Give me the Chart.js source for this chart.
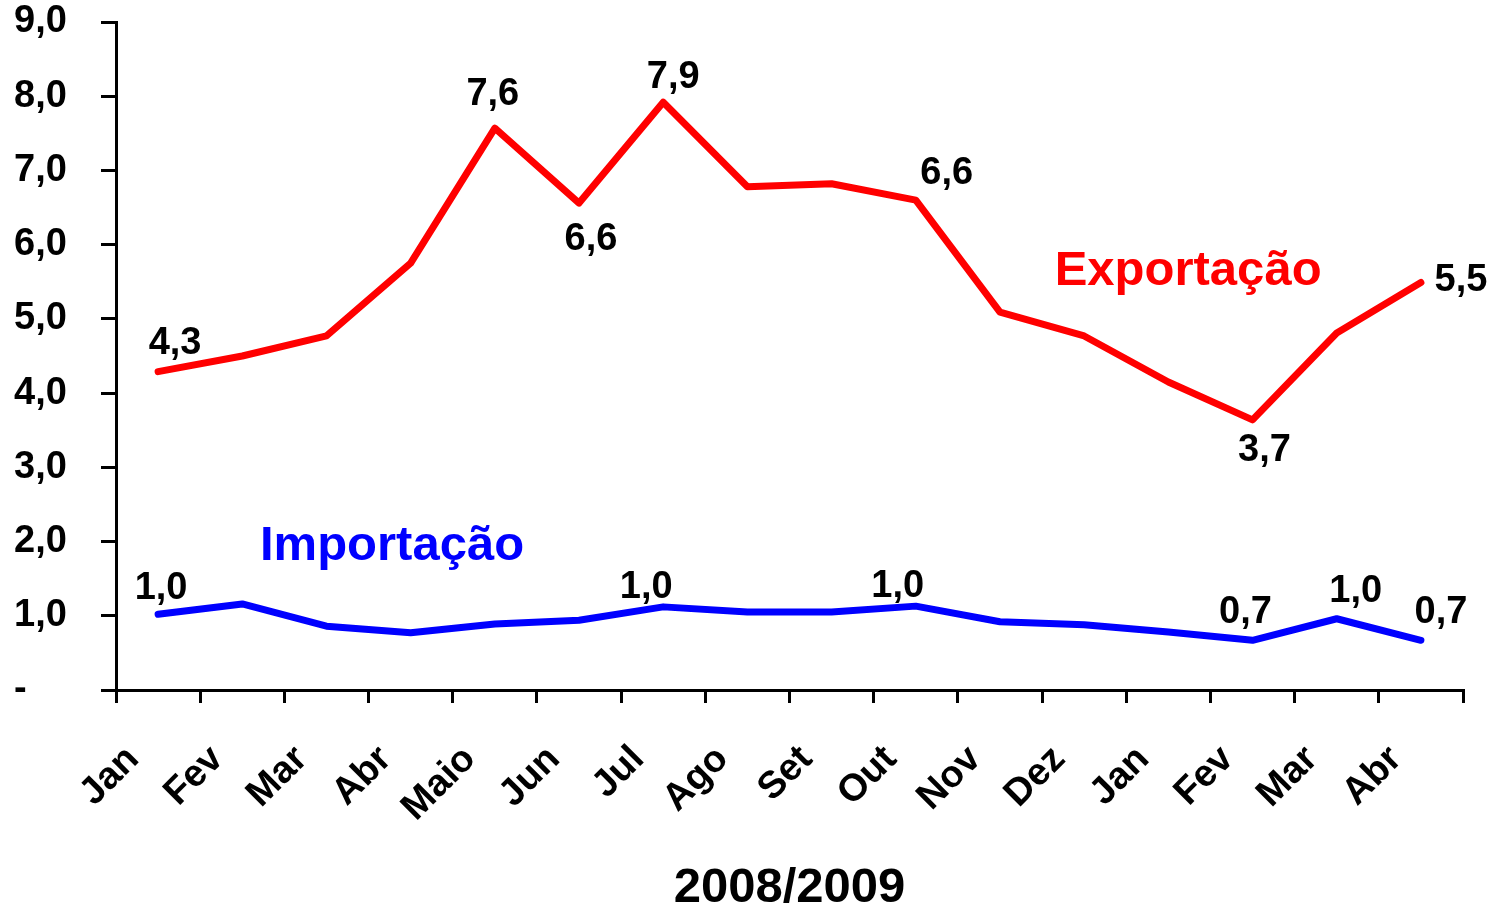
<!DOCTYPE html>
<html>
<head>
<meta charset="utf-8">
<script src="https://cdn.jsdelivr.net/npm/chart.js@4.4.1/dist/chart.umd.min.js"></script>
<style>
  html, body { margin: 0; padding: 0; background: #fff; }
  canvas { display: block; }
</style>
</head>
<body>
<canvas id="chart" width="1497" height="910"></canvas>
<script>
// data
const months = ['Jan', 'Fev', 'Mar', 'Abr', 'Maio', 'Jun', 'Jul', 'Ago', 'Set', 'Out', 'Nov', 'Dez', 'Jan', 'Fev', 'Mar', 'Abr'];
const exportacao = [4.29, 4.50, 4.77, 5.75, 7.57, 6.56, 7.92, 6.78, 6.82, 6.60, 5.09, 4.77, 4.15, 3.64, 4.81, 5.49];
const importacao = [1.02, 1.16, 0.86, 0.77, 0.89, 0.94, 1.12, 1.05, 1.05, 1.13, 0.92, 0.88, 0.78, 0.67, 0.96, 0.67];
const exportLabels = ['4,3', null, null, null, '7,6', '6,6', '7,9', null, null, '6,6', null, null, null, '3,7', null, '5,5'];
const importLabels = ['1,0', null, null, null, null, null, '1,0', null, null, '1,0', null, null, null, '0,7', '1,0', '0,7'];
const yTicks = [0, 1, 2, 3, 4, 5, 6, 7, 8, 9];
const xTitle = '2008/2009';

const FONT = '"Liberation Sans", Arial, sans-serif';
const RED = '#ff0000', BLUE = '#0000ff';

// where each value label sits relative to its point (px)
const LABEL_OFFSETS = [
  { 0: [17, -26], 4: [-2, -32], 5: [12, 38], 6: [10, -23], 9: [31, -25], 13: [12, 33], 15: [40, 0] },
  { 0: [3, -24], 6: [-17, -17], 9: [-18, -18], 13: [-7, -26], 14: [19, -25], 15: [20, -26] }
];
// series names, placed in axis units (category index, value at baseline)
const SERIES_NAMES = [
  { text: 'Exportação', color: RED, x: 10.65, y: 5.46 },
  { text: 'Importação', color: BLUE, x: 1.21, y: 1.75 }
];

const labelsPlugin = {
  id: 'labelsPlugin',
  afterDatasetsDraw(chart) {
    const ctx = chart.ctx;
    ctx.save();
    ctx.font = `bold 38px ${FONT}`;
    ctx.fillStyle = '#000';
    ctx.textAlign = 'center';
    ctx.textBaseline = 'middle';
    chart.data.datasets.forEach((ds, di) => {
      const meta = chart.getDatasetMeta(di);
      ds.pointLabels.forEach((txt, i) => {
        if (!txt) return;
        const pt = meta.data[i];
        const off = LABEL_OFFSETS[di][i] || [0, -25];
        ctx.fillText(txt, pt.x + off[0], pt.y + off[1] - 2);
      });
    });
    const xs = chart.scales.x, ys = chart.scales.y;
    ctx.font = `bold 49px ${FONT}`;
    ctx.textAlign = 'left';
    ctx.textBaseline = 'alphabetic';
    SERIES_NAMES.forEach(s => {
      ctx.fillStyle = s.color;
      ctx.fillText(s.text, xs.getPixelForValue(s.x), ys.getPixelForValue(s.y));
    });
    ctx.restore();
  }
};

new Chart(document.getElementById('chart'), {
  type: 'line',
  data: {
    labels: months,
    datasets: [
      { data: exportacao, pointLabels: exportLabels, borderColor: RED, borderWidth: 7, pointRadius: 0, tension: 0,
        borderCapStyle: 'round', borderJoinStyle: 'round', fill: false },
      { data: importacao, pointLabels: importLabels, borderColor: BLUE, borderWidth: 7, pointRadius: 0, tension: 0,
        borderCapStyle: 'round', borderJoinStyle: 'round', fill: false }
    ]
  },
  options: {
    responsive: false,
    animation: false,
    layout: { padding: { left: 14, top: 22, right: 34, bottom: 0 } },
    plugins: { legend: { display: false }, tooltip: { enabled: false } },
    scales: {
      x: {
        type: 'category',
        offset: true,
        afterFit: s => { s.height = 220; s.paddingLeft = 0; s.paddingRight = 0; },
        border: { display: true, color: '#000', width: 3 },
        grid: { offset: true, drawOnChartArea: false, drawTicks: true, tickLength: 13, color: '#000', lineWidth: 3 },
        ticks: {
          autoSkip: false, minRotation: 45, maxRotation: 45, padding: 34, labelOffset: -25,
          color: '#000', font: { family: FONT, size: 38, weight: 'bold' }
        },
        title: { display: true, text: xTitle, color: '#000', padding: 0,
          font: { family: FONT, size: 49, weight: 'bold', lineHeight: 0.88 } }
      },
      y: {
        min: 0, max: 9,
        afterFit: s => { s.width = 102; s.paddingTop = 0; s.paddingBottom = 0; },
        afterBuildTicks: s => { s.ticks = yTicks.map(v => ({ value: v })); },
        border: { display: true, color: '#000', width: 3 },
        grid: { drawOnChartArea: false, drawTicks: true, tickLength: 15, color: '#000', lineWidth: 3 },
        ticks: {
          crossAlign: 'far', padding: 30, color: '#000',
          font: { family: FONT, size: 38, weight: 'bold' },
          callback: v => v === 0 ? '-' : v.toFixed(1).replace('.', ',')
        }
      }
    }
  },
  plugins: [labelsPlugin]
});
</script>
</body>
</html>
